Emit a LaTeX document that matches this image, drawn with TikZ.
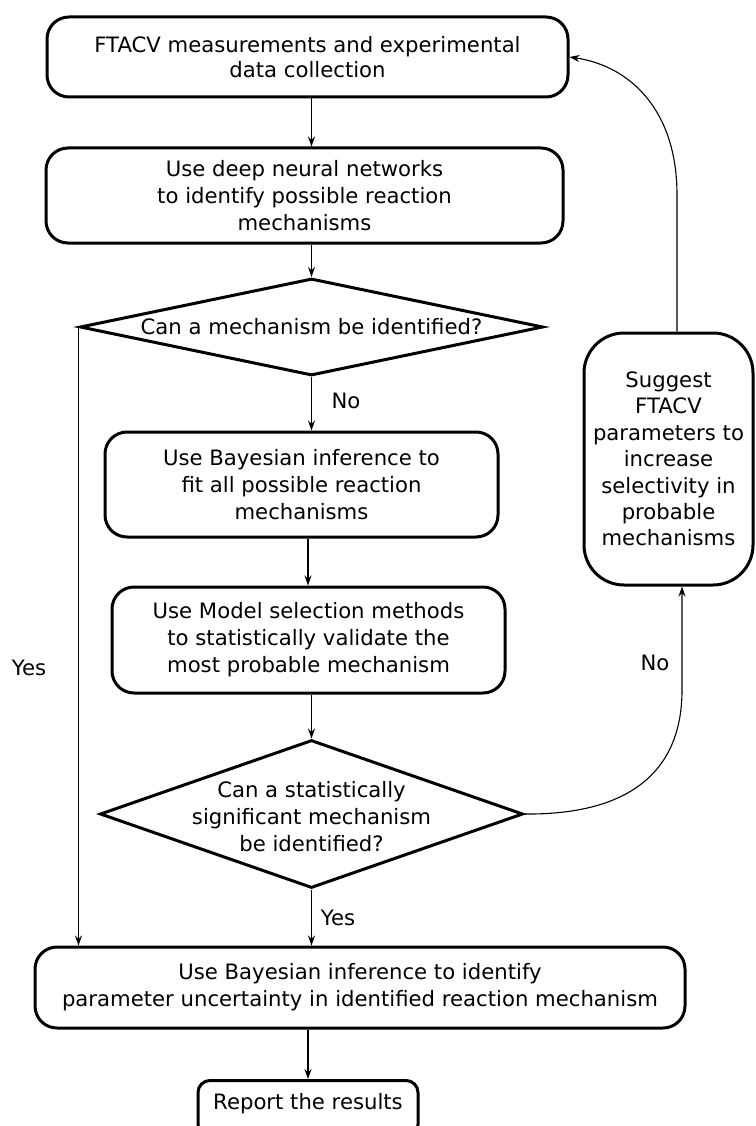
\documentclass[tikz,border=0pt]{standalone}
\usepackage{fontspec}
\setmainfont{DejaVu Sans}
\usetikzlibrary{arrows.meta,shapes.geometric,calc}
\begin{document}
\begin{tikzpicture}[x=1pt,y=-1pt,
  box/.style={draw,line width=3pt,rounded corners=22pt,align=center,inner sep=0pt,
    font=\fontsize{21.2}{27}\selectfont},
  dia/.style={draw,line width=3pt,diamond,inner sep=0pt},
  dtext/.style={align=center,inner sep=0pt,font=\fontsize{21.2}{27}\selectfont},
  lbl/.style={inner sep=0pt,font=\fontsize{21.2}{27}\selectfont},
  arr/.style={line width=1.1pt,-{Stealth[length=10pt,width=7pt]}}]
\useasboundingbox (0,0) rectangle (755,1126);
\clip (0,0) rectangle (755,1126);

\node[box,minimum width=521pt,minimum height=80pt,font=\fontsize{21.2}{25}\selectfont] (b1) at (307.5,57)
  {FTACV measurements and experimental\\data collection};
\node[box,minimum width=517pt,minimum height=95pt] (b2) at (304.5,195.5)
  {Use deep neural networks\\to identify possible reaction\\mechanisms};
\node[dia,minimum width=463pt,minimum height=97pt] (d1) at (311.5,327) {};
\node[dtext] (t1) at (311.5,327) {Can a mechanism be identified?};
\node[box,minimum width=393pt,minimum height=105pt] (b3) at (301.5,484.5)
  {Use Bayesian inference to\\fit all possible reaction\\mechanisms};
\node[box,minimum width=393pt,minimum height=106pt] (b4) at (308.5,640)
  {Use Model selection methods\\to statistically validate the\\most probable mechanism};
\node[dia,minimum width=423pt,minimum height=148pt] (d2) at (311.5,814) {};
\node[dtext] (t2) at (311.5,817) {Can a statistically\\significant mechanism\\be identified?};
\node[box,minimum width=650pt,minimum height=81pt] (b5) at (360,987.5)
  {Use Bayesian inference to identify\\parameter uncertainty in identified reaction mechanism};
\node[box,rounded corners=12pt,minimum width=220pt,minimum height=56pt,anchor=north,
  text depth=0pt] (rep) at (308,1079) {};
\node[lbl] (rept) at (308,1104) {Report the results};
\node[box,rounded corners=40pt,minimum width=169pt,minimum height=252pt,
  font=\fontsize{21.2}{26.4}\selectfont] (sug) at (668.5,459)
  {Suggest\\FTACV\\parameters to\\increase\\selectivity in\\probable\\mechanisms};

% labels
\node[lbl] (no1) at (346,401) {No};
\node[lbl] (yes1) at (29,668) {Yes};
\node[lbl] (yes2) at (338,918) {Yes};
\node[lbl] (no2) at (655,663) {No};

% connectors
\draw[arr] (b1.south -| d1.north) -- (b2.north -| d1.north);
\draw[arr] (b2.south -| d1.north) -- (d1.north);
\draw[arr] (d1.south) -- (b3.north -| d1.south);
\draw[arr] (b3.south -| 308,0) -- (b4.north -| 308,0);
\draw[arr] (b4.south -| d2.north) -- (d2.north);
\draw[arr] (d2.south) -- (b5.north -| d2.south);
\draw[arr] (b5.south -| rep.north) -- (rep.north);
\draw[arr] (d1.west) -- (b5.north -| d1.west);
\coordinate (sb) at ($(sug.south)+(13.5,0)$);
\coordinate (st) at ($(sug.north)+(8.5,0)$);
\draw[arr] (d2.east) .. controls (625,815) and (682,775) .. (682,690) -- (sb);
\draw[arr] (st) -- (677,195) .. controls (677,110) and (630,66) .. (b1.east);
\end{tikzpicture}
\end{document}
